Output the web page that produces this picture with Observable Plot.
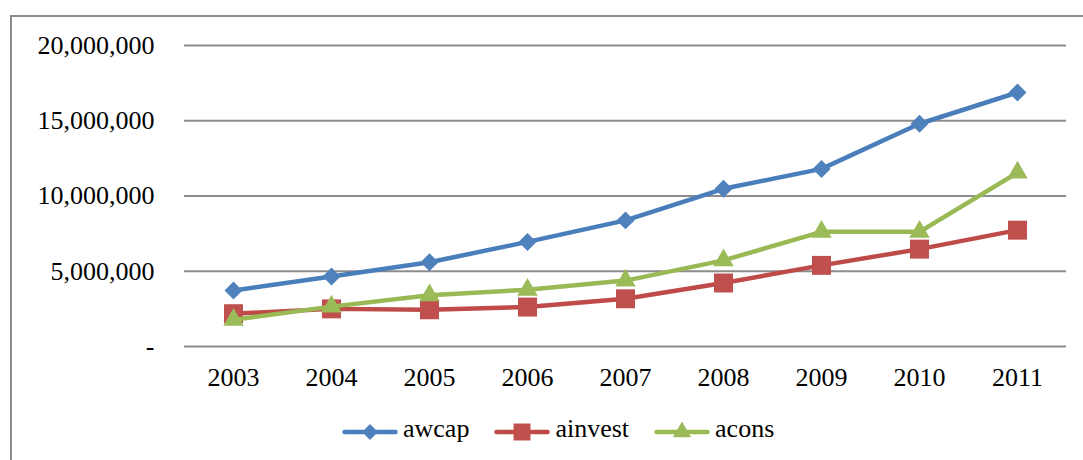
<!DOCTYPE html>
<html>
<head>
<meta charset="utf-8">
<script src="https://cdn.jsdelivr.net/npm/d3@7"></script>
<script src="https://cdn.jsdelivr.net/npm/@observablehq/plot@0.6"></script>
<style>
  html, body { margin: 0; padding: 0; background: #fff; overflow: hidden; }
  body { width: 1083px; height: 460px; position: relative; }
  #frame {
    position: absolute; left: 10px; top: 15px; width: 1200px; height: 600px;
    border: 2px solid #8c8c8c; pointer-events: none; z-index: 2;
  }
  #chart { position: absolute; left: 0; top: 0; width: 1083px; }
  #legend {
    display: flex; align-items: center; height: 56px; margin-top: 4px;
    padding-left: 342px;
    font-family: "Liberation Serif", "Times New Roman", serif; font-size: 26px; color: #000;
  }
  #legend .item { display: flex; align-items: center; margin-right: 25px; }
  #legend .item svg { display: block; }
  #legend .item span { margin-left: 5px; position: relative; top: -3px; }
</style>
</head>
<body>
<div id="frame"></div>
<div id="chart"></div>
<script>
// Years on the horizontal axis
const years = ["2003", "2004", "2005", "2006", "2007", "2008", "2009", "2010", "2011"];

// Series values
const awcap   = [3720000, 4650000, 5600000, 6950000, 8380000, 10480000, 11800000, 14800000, 16880000];
const ainvest = [2180000, 2500000, 2440000, 2620000, 3170000, 4220000, 5390000, 6470000, 7730000];
const acons   = [1770000, 2650000, 3400000, 3770000, 4380000, 5720000, 7620000, 7620000, 11550000];

// Series names and vertical tick values
const seriesNames = ["awcap", "ainvest", "acons"];
const yTicks = [0, 5000000, 10000000, 15000000, 20000000];

const seriesValues = [awcap, ainvest, acons];
const lineColors = ["#4a7ebb", "#be4b48", "#98b954"];
const markColors = ["#4f81bd", "#c0504d", "#9bbb59"];
const symbolNames = ["diamond2", "square", "triangle"];
const d3Symbols = [d3.symbolDiamond2, d3.symbolSquare, d3.symbolTriangle];
const radii = [8.1, 10.7, 7.6];

// Long-format table built from the arrays above
const table = seriesNames.flatMap((name, i) =>
  years.map((year, j) => ({series: name, year, value: seriesValues[i][j]}))
);

const fmt = d3.format(",");

const seriesMarks = seriesNames.flatMap((name, i) => {
  const rows = table.filter(d => d.series === name);
  return [
    Plot.line(rows, {
      x: "year", y: "value", stroke: lineColors[i], strokeWidth: 4.5,
      strokeLinejoin: "round", strokeLinecap: "round"
    }),
    Plot.dot(rows, {
      x: "year", y: "value", symbol: symbolNames[i], r: radii[i],
      fill: markColors[i], stroke: "none"
    })
  ];
});

const chart = Plot.plot({
  width: 1083,
  height: 400,
  marginLeft: 184,
  marginRight: 17,
  marginTop: 45,
  marginBottom: 54,
  style: {
    fontFamily: "'Liberation Serif', 'Times New Roman', serif",
    fontSize: "26px",
    color: "#000",
    background: "transparent",
    overflow: "visible"
  },
  x: {type: "point", domain: years, padding: 0.5, label: null},
  y: {domain: [0, 20000000], label: null},
  marks: [
    Plot.gridY(yTicks, {stroke: "#8c8c8c", strokeWidth: 2, strokeOpacity: 1}),
    Plot.axisY(yTicks, {
      tickSize: 0, tickPadding: 30, label: null, fontSize: 26,
      tickFormat: d => d === 0 ? "-" : fmt(d)
    }),
    Plot.axisX({tickSize: 0, tickPadding: 21, label: null, fontSize: 26}),
    ...seriesMarks
  ]
});

document.getElementById("chart").append(chart);

// Legend row below the plot
const legend = d3.select("#chart").append("div").attr("id", "legend");
seriesNames.forEach((name, i) => {
  const item = legend.append("div").attr("class", "item");
  const svg = item.append("svg").attr("width", 56).attr("height", 22);
  svg.append("line")
    .attr("x1", 2.5).attr("x2", 53.5).attr("y1", 11).attr("y2", 11)
    .attr("stroke", lineColors[i]).attr("stroke-width", 4.5).attr("stroke-linecap", "round");
  svg.append("path")
    .attr("transform", "translate(28,11)")
    .attr("d", d3.symbol(d3Symbols[i], Math.PI * radii[i] * radii[i] * 0.8)())
    .attr("fill", markColors[i]);
  item.append("span").text(name);
});
</script>
</body>
</html>
